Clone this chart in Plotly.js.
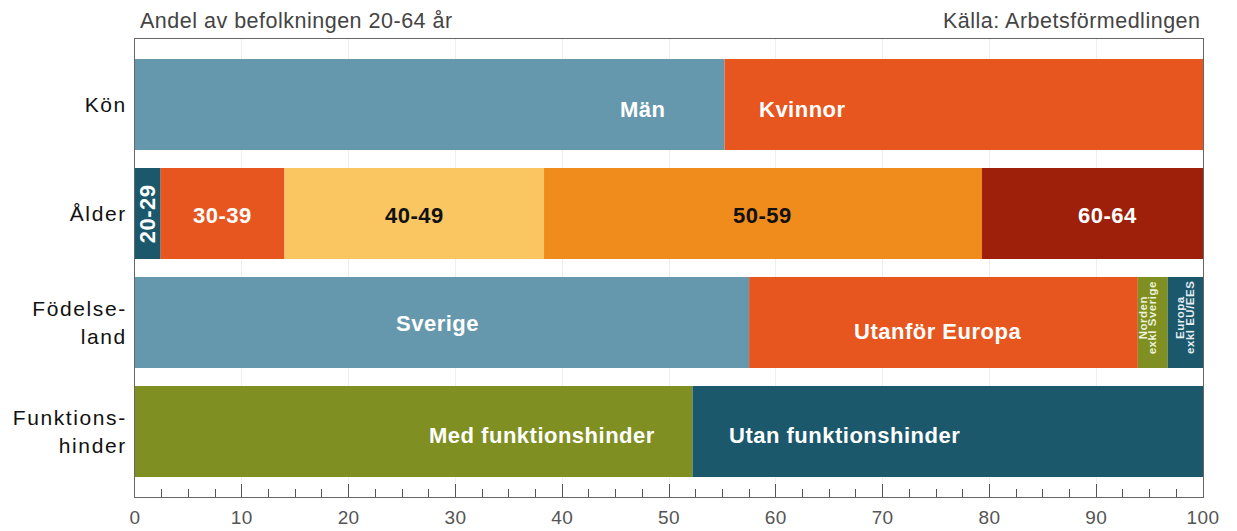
<!DOCTYPE html>
<html>
<head>
<meta charset="utf-8">
<script src="https://cdn.plot.ly/plotly-3.0.1.min.js"></script>
<style>
html,body{margin:0;padding:0;background:#fff;}
#chart{width:1237px;height:531px;}
.annotation-text{letter-spacing:0.5px;}
#chart .ytick text{letter-spacing:1.6px;}
#chart .xtick text{letter-spacing:0.4px;}
</style>
</head>
<body>
<div id="chart"></div>
<script>
// ---- data ----
const categories = ['Kön', 'Ålder', 'Födelseland', 'Funktionshinder'];
const categoryTickText = ['Kön', 'Ålder', 'Födelse-<br>land', 'Funktions-<br>hinder'];

const konLabels = ['Män', 'Kvinnor'];
const konValues = [55.2, 44.8];

const alderLabels = ['20-29', '30-39', '40-49', '50-59', '60-64'];
const alderValues = [2.4, 11.6, 24.3, 41.0, 20.7];

const fodLabels = ['Sverige', 'Utanför Europa', 'Norden<br>exkl Sverige', 'Europa<br>exkl EU/EES'];
const fodValues = [57.5, 36.4, 2.8, 3.3];

const funkLabels = ['Med funktionshinder', 'Utan funktionshinder'];
const funkValues = [52.2, 47.8];

const xTickVals = [0, 10, 20, 30, 40, 50, 60, 70, 80, 90, 100];

// ---- styles ----
const FONT = 'Liberation Sans, Arial, Helvetica, sans-serif';
const groups = [
  {cat: categories[0], labels: konLabels, values: konValues,
   colors: ['#6698ad', '#e8561f'],
   text: [
     {color: '#fff', anchor: 'end', xshift: -57, yshift: -5},
     {color: '#fff', anchor: 'start', xshift: 32, yshift: -5}
   ]},
  {cat: categories[1], labels: alderLabels, values: alderValues,
   colors: ['#1b586c', '#e8561f', '#f9c662', '#ef8c1b', '#9e1f0a'],
   text: [
     {color: '#fff', anchor: 'mid', rot: -90, yshift: 0},
     {color: '#fff', anchor: 'mid', yshift: -2},
     {color: '#111', anchor: 'mid', yshift: -2},
     {color: '#111', anchor: 'mid', yshift: -2},
     {color: '#fff', anchor: 'mid', xshift: 15, yshift: -2}
   ]},
  {cat: categories[2], labels: fodLabels, values: fodValues,
   colors: ['#6698ad', '#e8561f', '#7f8f22', '#1b586c'],
   text: [
     {color: '#fff', anchor: 'mid', xshift: -5, yshift: -1},
     {color: '#fff', anchor: 'mid', xshift: -6, yshift: -9},
     {color: '#eef0d8', anchor: 'mid', rot: -90, size: 11.5, split: [-10, -1], yshift: 5},
     {color: '#e6eef2', anchor: 'mid', rot: -90, size: 11.5, split: [-6, 4], yshift: 5}
   ]},
  {cat: categories[3], labels: funkLabels, values: funkValues,
   colors: ['#7f8f22', '#1b586c'],
   text: [
     {color: '#fff', anchor: 'end', xshift: -36, yshift: -4},
     {color: '#fff', anchor: 'start', xshift: 34, yshift: -4}
   ]}
];

const traces = [];
const annotations = [];
groups.forEach(g => {
  let cum = 0;
  g.values.forEach((v, i) => {
    traces.push({
      type: 'bar', orientation: 'h',
      y: [g.cat], x: [v], base: [cum],
      marker: {color: g.colors[i], line: {width: 0}},
      hoverinfo: 'skip', showlegend: false
    });
    const t = g.text[i];
    let ax = cum + v / 2, xa = 'center';
    if (t.anchor === 'end') { ax = cum + v; xa = 'right'; }
    if (t.anchor === 'start') { ax = cum; xa = 'left'; }
    const font = {family: t.split ? 'Liberation Sans Narrow, ' + FONT : FONT, size: t.size || 22, color: t.color, weight: 'bold'};
    if (t.split) {
      g.labels[i].split('<br>').forEach((line, k) => {
        annotations.push({
          x: ax, y: g.cat, xref: 'x', yref: 'y', text: line, showarrow: false,
          xanchor: 'center', yanchor: 'middle', xshift: t.split[k], yshift: t.yshift || 0,
          textangle: -90, font: font
        });
      });
    } else {
      annotations.push({
        x: ax, y: g.cat, xref: 'x', yref: 'y',
        text: g.labels[i], showarrow: false,
        xanchor: xa, yanchor: 'middle',
        xshift: t.xshift || 0, yshift: t.yshift || 0,
        textangle: t.rot || 0, font: font
      });
    }
    cum += v;
  });
});

annotations.push({
  xref: 'paper', yref: 'paper', x: 0.003, y: 1, yanchor: 'bottom', xanchor: 'left', yshift: 4,
  text: 'Andel av befolkningen 20-64 år', showarrow: false,
  font: {family: FONT, size: 21.5, color: '#444'}
});
annotations.push({
  xref: 'paper', yref: 'paper', x: 1, y: 1, yanchor: 'bottom', xanchor: 'right', yshift: 4,
  text: 'Källa: Arbetsförmedlingen', showarrow: false,
  font: {family: FONT, size: 21.5, color: '#444'}
});

const layout = {
  width: 1237, height: 531,
  margin: {l: 135, r: 34, t: 39, b: 34, pad: 0},
  paper_bgcolor: '#fff', plot_bgcolor: '#fff',
  barmode: 'overlay', bargap: 0.165,
  font: {family: FONT},
  xaxis: {
    range: [0, 100], tickvals: xTickVals, ticktext: xTickVals.map(String),
    ticks: 'inside', ticklen: 13, tickwidth: 1, tickcolor: '#555',
    showline: true, linecolor: '#666', linewidth: 1, mirror: true,
    showgrid: true, gridcolor: '#eeeeee', gridwidth: 1, zeroline: false,
    minor: {dtick: 2.5, ticks: 'inside', ticklen: 8, tickcolor: '#555', showgrid: false},
    tickfont: {size: 19, color: '#555'}, ticklabelstandoff: 3, fixedrange: true
  },
  yaxis: {
    type: 'category', categoryorder: 'array', categoryarray: categories,
    tickvals: categories, ticktext: categoryTickText,
    range: [3.6, -0.6],
    showline: true, linecolor: '#666', linewidth: 1, mirror: true,
    showgrid: false, zeroline: false, ticks: '',
    tickfont: {size: 21, color: '#111'}, ticklabelstandoff: 3, fixedrange: true
  },
  annotations: annotations
};

Plotly.newPlot('chart', traces, layout, {displayModeBar: false, staticPlot: true});
</script>
</body>
</html>
